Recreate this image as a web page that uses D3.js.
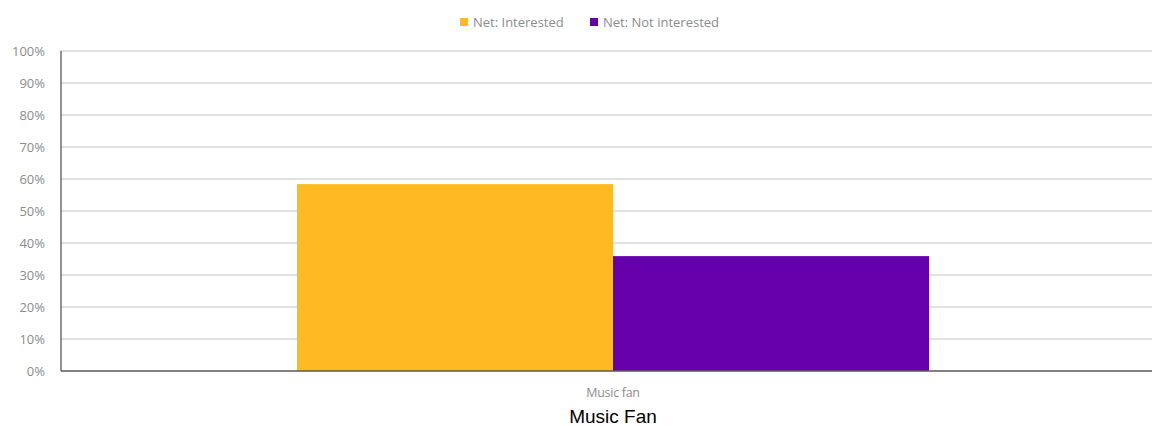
<!DOCTYPE html>
<html><head><meta charset="utf-8">
<script src="https://cdn.jsdelivr.net/npm/d3@7"></script>
<style>body{margin:0;background:#fff}svg{display:block}</style>
</head><body><div id="chart"></div>
<script>
const categories = ["Music fan"];
const seriesNames = ["Net: Interested", "Net: Not interested"];
const interested = [0.584];
const notInterested = [0.359];
const yTicks = [0,0.1,0.2,0.3,0.4,0.5,0.6,0.7,0.8,0.9,1.0];
const colors = ["#FFB921", "#6600AC"];
const chartTitle = "Music Fan";

const W = 1153, H = 426;
const svg = d3.select("#chart").append("svg").attr("width", W).attr("height", H);
const mLeft = 61, gridRight = 1152, plotRight = 1165, mTop = 51, mBottom = 371;

const y = d3.scaleLinear().domain([0,1]).range([mBottom, mTop]);
const x0 = d3.scaleBand().domain(categories).range([mLeft, plotRight]).paddingInner(0).paddingOuter(0.3734);
const x1 = d3.scaleBand().domain(seriesNames).range([0, x0.bandwidth()]).padding(0);

const font = "'Open Sans', 'Liberation Sans', sans-serif";

// gridlines
svg.append("g").selectAll("line").data(yTicks.filter(d => d > 0)).join("line")
  .attr("x1", mLeft).attr("x2", gridRight)
  .attr("y1", d => y(d)).attr("y2", d => y(d))
  .attr("stroke", "#d9d9d9").attr("stroke-width", 1.6);

// y tick labels
svg.append("g").selectAll("text").data(yTicks).join("text")
  .attr("x", 45).attr("y", d => y(d)).attr("dy", "0.35em")
  .attr("text-anchor", "end").attr("fill", "#8c8c8c")
  .style("font-family", font).style("font-size", "13px")
  .text(d => d3.format(".0%")(d));

// bars
const data = categories.map((c, i) => ({cat: c, vals: [interested[i], notInterested[i]]}));
const g = svg.append("g").selectAll("g").data(data).join("g")
  .attr("transform", d => `translate(${x0(d.cat)},0)`);
g.selectAll("rect").data(d => d.vals.map((v, j) => ({name: seriesNames[j], v, j}))).join("rect")
  .attr("x", d => x1(d.name)).attr("width", x1.bandwidth())
  .attr("y", d => y(d.v)).attr("height", d => y(0) - y(d.v))
  .attr("fill", d => colors[d.j]);

// axes lines
svg.append("line").attr("x1", mLeft).attr("x2", mLeft).attr("y1", mTop).attr("y2", mBottom)
  .attr("stroke", "#595959").attr("stroke-width", 1.3);
svg.append("line").attr("x1", mLeft).attr("x2", gridRight).attr("y1", mBottom).attr("y2", mBottom)
  .attr("stroke", "#595959").attr("stroke-width", 1.6);

// category labels
svg.append("g").selectAll("text").data(categories).join("text")
  .attr("x", d => x0(d) + x0.bandwidth()/2).attr("y", 397)
  .attr("text-anchor", "middle").attr("fill", "#8c8c8c")
  .style("font-family", font).style("font-size", "12.5px").style("letter-spacing", "-0.3px")
  .text(d => d);

// title
svg.append("text").attr("x", x0(categories[0]) + x0.bandwidth()/2).attr("y", 423)
  .attr("text-anchor", "middle").attr("fill", "#000")
  .style("font-family", "'Liberation Sans', Arial, sans-serif").style("font-size", "19px")
  .text(chartTitle);

// legend
const legendX = [460, 590];
const lg = svg.append("g").selectAll("g").data(seriesNames).join("g")
  .attr("transform", (d, i) => `translate(${legendX[i]},18)`);
lg.append("rect").attr("width", 8).attr("height", 8).attr("fill", (d, i) => colors[i]);
lg.append("text").attr("x", 13).attr("y", 4).attr("dy", "0.35em")
  .attr("fill", "#8c8c8c").style("font-family", font).style("font-size", "13px")
  .text(d => d);
</script></body></html>
